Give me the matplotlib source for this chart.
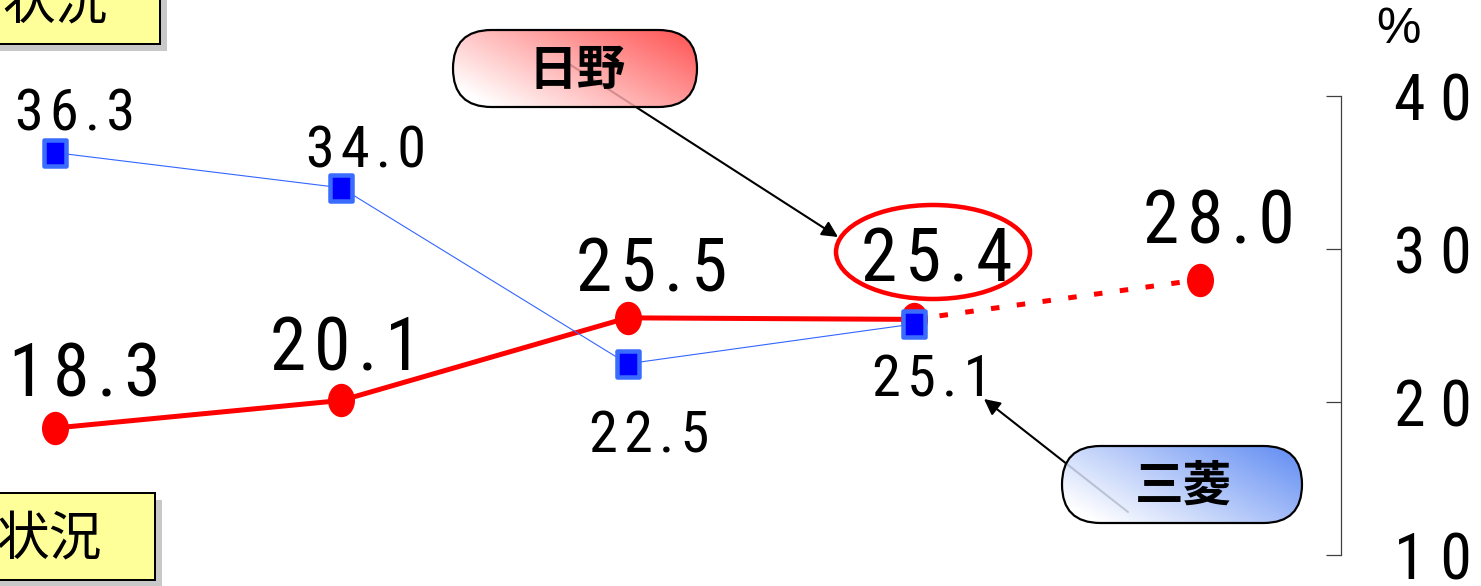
import numpy as np
import matplotlib
matplotlib.use('Agg')
import matplotlib.pyplot as plt
from matplotlib import font_manager as fm
from matplotlib.path import Path
from matplotlib.transforms import Affine2D
from matplotlib.patches import FancyBboxPatch, Ellipse, Rectangle, FancyArrowPatch
from matplotlib.ticker import FixedLocator, FuncFormatter

# ---------------- data ----------------
periods = [0, 1, 2, 3]
forecast_periods = [3, 4]
hino_values = [18.3, 20.1, 25.5, 25.4]
hino_forecast = [25.4, 28.0]
mitsubishi_values = [36.3, 34.0, 22.5, 25.1]
hino_name = "日野"
mitsubishi_name = "三菱"
yticks = [10, 20, 30, 40]
unit_label = "%"
box_text = "状況"

# ---------------- fonts ----------------
installed = {f.name for f in fm.fontManager.ttflist}
narrow = None
for cand in ['Liberation Sans Narrow', 'Arial Narrow', 'Roboto Condensed',
             'Open Sans Condensed', 'DejaVu Sans Condensed']:
    if cand in installed:
        narrow = cand
        break
if narrow:
    NUM_FONT = [narrow, 'Liberation Sans', 'DejaVu Sans']
    BIG, SMALL, TICK = 53, 42, 46
    TICK_SEP = ' '
else:
    NUM_FONT = ['Liberation Sans', 'DejaVu Sans']
    BIG, SMALL, TICK = 48, 38, 43
    TICK_SEP = '\u200a'
CJK_FONT = ['Noto Sans CJK JP', 'DejaVu Sans']

# ---------------- layout ----------------
W, H, DPI = 1481, 586, 100
PT = 72 / DPI

fig = plt.figure(figsize=(W / DPI, H / DPI), dpi=DPI)
fig.patch.set_facecolor('white')
ax = fig.add_axes([0, 0, 1, 1])

x0_px, step_px = 55, 286.25
ax.set_xlim(-x0_px / step_px, (W - x0_px) / step_px)
y40_px, y10_px = 96, 555
ppu = (y10_px - y40_px) / 30.0
ax.set_ylim(10 - (H - y10_px) / ppu, 40 + y40_px / ppu)

for s in ['top', 'left', 'bottom']:
    ax.spines[s].set_visible(False)
ax.spines['right'].set_position(('data', (1341 - x0_px) / step_px))
ax.spines['right'].set_bounds(10, 40)
ax.spines['right'].set_color('#404040')
ax.spines['right'].set_linewidth(0.9)
ax.set_xticks([])
ax.yaxis.tick_right()
ax.yaxis.set_major_locator(FixedLocator(yticks))
ax.yaxis.set_major_formatter(FuncFormatter(lambda v, p: TICK_SEP.join(str(int(v)))))
ax.tick_params(axis='y', direction='in', length=15 * PT, width=0.9, color='#404040',
               pad=38, labelsize=TICK)
for lab in ax.get_yticklabels():
    lab.set_family(NUM_FONT)


def spaced(v):
    return '\u200a'.join(f"{v:.1f}")


# marker shapes
ell = Path.unit_circle().transformed(Affine2D().scale(0.8, 1.0))
rect = Path([(-0.4, -0.5), (0.4, -0.5), (0.4, 0.5), (-0.4, 0.5), (-0.4, -0.5)],
            [Path.MOVETO, Path.LINETO, Path.LINETO, Path.LINETO, Path.CLOSEPOLY])

# lines
ax.plot(periods, mitsubishi_values, color='#3366FF', lw=0.8, zorder=3)
ax.plot(periods, hino_values, color='#FF0000', lw=5 * PT, zorder=2,
        solid_capstyle='butt')
ax.plot(forecast_periods, hino_forecast, color='#FF0000', lw=5 * PT,
        linestyle=(0, (1.7, 3.5)), dash_capstyle='butt', zorder=2)
ax.plot(periods + [forecast_periods[-1]], hino_values + [hino_forecast[-1]],
        linestyle='none', marker=ell, markersize=32 * PT, color='#FF0000', zorder=4)
ax.plot(periods, mitsubishi_values, linestyle='none', marker=rect, markersize=27 * PT,
        markerfacecolor='#0000FF', markeredgecolor='#3A6CFF', markeredgewidth=4.5 * PT,
        zorder=5)

# value labels (offsets in pixels from the marker)
hino_offsets = [(30, -52), (5, -50), (24, -47), (23, -58)]
forecast_offset = (19, -57)
mitsu_offsets = [(20, -38), (25, -36), (22, 73), (18, 57)]
for x, v, (dx, dy) in zip(periods, hino_values, hino_offsets):
    ax.annotate(spaced(v), (x, v), xytext=(dx * PT, -dy * PT), textcoords='offset points',
                ha='center', va='center', fontsize=BIG, family=NUM_FONT, zorder=6)
ax.annotate(spaced(hino_forecast[-1]), (forecast_periods[-1], hino_forecast[-1]),
            xytext=(forecast_offset[0] * PT, -forecast_offset[1] * PT),
            textcoords='offset points', ha='center', va='center', fontsize=BIG,
            family=NUM_FONT, zorder=6)
for x, v, (dx, dy) in zip(periods, mitsubishi_values, mitsu_offsets):
    ax.annotate(spaced(v), (x, v), xytext=(dx * PT, -dy * PT), textcoords='offset points',
                ha='center', va='center', fontsize=SMALL, family=NUM_FONT, zorder=6)

# ---------------- overlay (pixel coordinates) ----------------
ov = fig.add_axes([0, 0, 1, 1])
ov.patch.set_alpha(0)
ov.axis('off')


def reset_ov():
    ov.set_xlim(0, W)
    ov.set_ylim(H, 0)
    ov.set_aspect('auto')


reset_ov()

ov.text(1376, 30, unit_label, fontsize=36, family=['Liberation Sans', 'DejaVu Sans'],
        va='center', ha='left')


def yellow_box(x, y, w, h, tx, ty):
    ov.add_patch(Rectangle((x + 7, y + 7), w, h, facecolor='#C8C8C8', edgecolor='none', zorder=1))
    ov.add_patch(Rectangle((x, y), w, h, facecolor='#FFFF99', edgecolor='black',
                           lw=2 * PT, zorder=2))
    ov.text(tx, ty, box_text, ha='right', va='center', fontsize=38, family=CJK_FONT, zorder=3)


yellow_box(-10, -10, 170, 54, 108, 4)
yellow_box(-10, 493, 165, 87, 102, 540)


def gradient_pill(x, y, w, h, color, text):
    nx, ny = 300, 100
    X, Y = np.meshgrid(np.linspace(0, 1, nx), np.linspace(0, 1, ny))
    t = np.clip(0.75 * X + 0.45 * (1 - Y) - 0.12, 0, 1)[..., None]
    c = np.array(matplotlib.colors.to_rgb(color))
    img = (1 - t) * np.ones(3) + t * c
    patch = FancyBboxPatch((x, y), w, h, boxstyle=f"round,pad=0,rounding_size={h / 2}",
                           facecolor='none', edgecolor='black', lw=2.2 * PT, zorder=4)
    ov.add_patch(patch)
    im = ov.imshow(img, extent=(x, x + w, y + h, y), origin='upper', zorder=3,
                   alpha=0.85, interpolation='bilinear')
    im.set_clip_path(patch)
    ov.text(x + w / 2 + 2, y + h / 2 + 2, text, ha='center', va='center', fontsize=35,
            fontweight='bold', family=CJK_FONT, zorder=5)


# arrows (drawn below pills)
ov.add_patch(FancyArrowPatch((566, 62), (838, 237), arrowstyle='-|>', mutation_scale=24,
                             lw=1.5, color='black', shrinkA=0, shrinkB=0, zorder=2))
ov.add_patch(FancyArrowPatch((1128, 512), (984, 399), arrowstyle='-|>', mutation_scale=24,
                             lw=1.5, color='black', shrinkA=0, shrinkB=0, zorder=2))

gradient_pill(453, 30, 244, 77, '#FF4040', hino_name)
gradient_pill(1062, 446, 240, 77, '#5080F2', mitsubishi_name)

ov.add_patch(Ellipse((933, 252), 194, 94, facecolor='none', edgecolor='#FF0000',
                     lw=4.5 * PT, zorder=6))

reset_ov()
fig.savefig('out.png', dpi=DPI)
